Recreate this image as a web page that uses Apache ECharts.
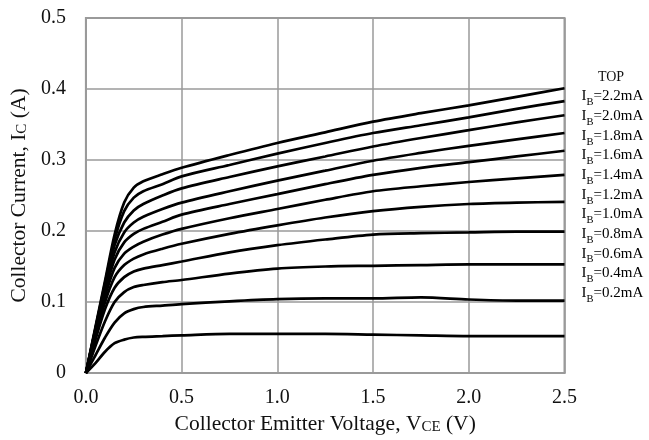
<!DOCTYPE html>
<html>
<head>
<meta charset="utf-8">
<script src="https://cdn.jsdelivr.net/npm/echarts@6/dist/echarts.min.js"></script>
<style>
  html, body { margin: 0; padding: 0; background: #fff; }
  #chart { width: 649px; height: 440px; }
</style>
</head>
<body>
<div id="chart"></div>
<script>
// Collector-emitter voltage samples (V)
const vce = [0, 0.05, 0.1, 0.15, 0.2, 0.25, 0.3, 0.4, 0.5, 0.75, 1.0, 1.25, 1.5, 1.75, 2.0, 2.25, 2.5];

// Base current of each curve (mA), top to bottom
const ibValues = ['2.2', '2.0', '1.8', '1.6', '1.4', '1.2', '1.0', '0.8', '0.6', '0.4', '0.2'];

// Collector current (A) at each vce sample, one array per base current
const ic22 = [0, 0.065, 0.130, 0.195, 0.240, 0.261, 0.270, 0.280, 0.289, 0.307, 0.324, 0.339, 0.354, 0.366, 0.377, 0.389, 0.401];
const ic20 = [0, 0.063, 0.127, 0.188, 0.228, 0.247, 0.256, 0.266, 0.277, 0.293, 0.309, 0.324, 0.338, 0.349, 0.360, 0.372, 0.383];
const ic18 = [0, 0.062, 0.124, 0.180, 0.212, 0.229, 0.238, 0.250, 0.260, 0.276, 0.291, 0.305, 0.319, 0.331, 0.342, 0.353, 0.363];
const ic16 = [0, 0.061, 0.120, 0.170, 0.198, 0.212, 0.220, 0.231, 0.240, 0.256, 0.271, 0.285, 0.299, 0.310, 0.320, 0.329, 0.338];
const ic14 = [0, 0.059, 0.115, 0.160, 0.184, 0.196, 0.203, 0.213, 0.223, 0.238, 0.252, 0.266, 0.279, 0.289, 0.297, 0.305, 0.313];
const ic12 = [0, 0.056, 0.108, 0.148, 0.168, 0.178, 0.185, 0.195, 0.203, 0.218, 0.231, 0.244, 0.256, 0.263, 0.269, 0.274, 0.279];
const ic10 = [0, 0.052, 0.100, 0.135, 0.152, 0.161, 0.167, 0.175, 0.182, 0.196, 0.208, 0.219, 0.228, 0.234, 0.238, 0.240, 0.241];
const ic08 = [0, 0.047, 0.090, 0.120, 0.135, 0.143, 0.147, 0.152, 0.157, 0.170, 0.180, 0.188, 0.195, 0.197, 0.198, 0.199, 0.199];
const ic06 = [0, 0.038, 0.073, 0.100, 0.114, 0.121, 0.124, 0.128, 0.131, 0.140, 0.147, 0.150, 0.151, 0.152, 0.153, 0.153, 0.153];
const ic04 = [0, 0.025, 0.050, 0.071, 0.084, 0.090, 0.093, 0.095, 0.097, 0.101, 0.104, 0.105, 0.105, 0.1065, 0.1035, 0.102, 0.102];
const ic02 = [0, 0.014, 0.030, 0.042, 0.047, 0.050, 0.051, 0.052, 0.053, 0.055, 0.055, 0.055, 0.054, 0.053, 0.052, 0.052, 0.052];

const curves = [ic22, ic20, ic18, ic16, ic14, ic12, ic10, ic08, ic06, ic04, ic02];

const FONT = 'Liberation Serif';
const INK = '#111';
const GRIDC = '#9a9a9a';

const chart = echarts.init(document.getElementById('chart'), null, { renderer: 'canvas' });

const series = curves.map((ic, i) => ({
  name: 'IB=' + ibValues[i] + 'mA',
  type: 'line',
  data: vce.map((v, k) => [v, ic[k]]),
  showSymbol: false,
  smooth: 0.3,
  lineStyle: { color: '#000', width: 2.7 },
  silent: true,
  z: 3
}));

// Legend block on the right: "TOP" heading then one label per curve
const legendGraphics = [{
  type: 'text',
  x: 611, y: 77,
  style: { text: 'TOP', font: '14px "' + FONT + '"', fill: INK, align: 'center', verticalAlign: 'middle' }
}];
ibValues.forEach((ib, i) => {
  legendGraphics.push({
    type: 'text',
    x: 581.5, y: 96.5 + i * 19.65,
    style: {
      text: '{m|I}{s|B}{m|=' + ib + 'mA}',
      align: 'left', verticalAlign: 'middle',
      rich: {
        m: { fontFamily: FONT, fontSize: 15, color: INK, lineHeight: 23, verticalAlign: 'middle' },
        s: { fontFamily: FONT, fontSize: 10.5, color: INK, lineHeight: 11, verticalAlign: 'bottom' }
      }
    }
  });
});

chart.setOption({
  animation: false,
  backgroundColor: '#fff',
  grid: {
    left: 85.5, right: 84.5, top: 18, bottom: 65.5,
    show: true, borderColor: GRIDC, borderWidth: 2, backgroundColor: 'transparent'
  },
  xAxis: {
    type: 'value', min: 0, max: 2.5, interval: 0.5,
    name: 'Collector Emitter Voltage, V{s|CE} (V)',
    nameLocation: 'middle', nameGap: 40,
    nameTextStyle: {
      fontFamily: FONT, fontSize: 21.5, color: INK,
      rich: { s: { fontFamily: FONT, fontSize: 15, color: INK, verticalAlign: 'bottom', lineHeight: 17 } }
    },
    axisLine: { show: true, lineStyle: { color: GRIDC, width: 2 } },
    axisTick: { show: false },
    axisLabel: {
      fontFamily: FONT, fontSize: 20, color: INK, margin: 15,
      formatter: v => v.toFixed(1)
    },
    splitLine: { show: true, lineStyle: { color: GRIDC, width: 1.5 } }
  },
  yAxis: {
    type: 'value', min: 0, max: 0.5, interval: 0.1,
    name: 'Collector Current, I{s|C} (A)',
    nameLocation: 'middle', nameGap: 54,
    nameTextStyle: {
      fontFamily: FONT, fontSize: 21.5, color: INK,
      rich: { s: { fontFamily: FONT, fontSize: 15, color: INK, verticalAlign: 'bottom', lineHeight: 17 } }
    },
    axisLine: { show: true, lineStyle: { color: GRIDC, width: 2 } },
    axisTick: { show: false },
    axisLabel: {
      fontFamily: FONT, fontSize: 20, color: INK, margin: 20,
      formatter: v => (v === 0 ? '0' : v.toFixed(1))
    },
    splitLine: { show: true, lineStyle: { color: GRIDC, width: 1.5 } }
  },
  graphic: legendGraphics,
  series: series
});
</script>
</body>
</html>
